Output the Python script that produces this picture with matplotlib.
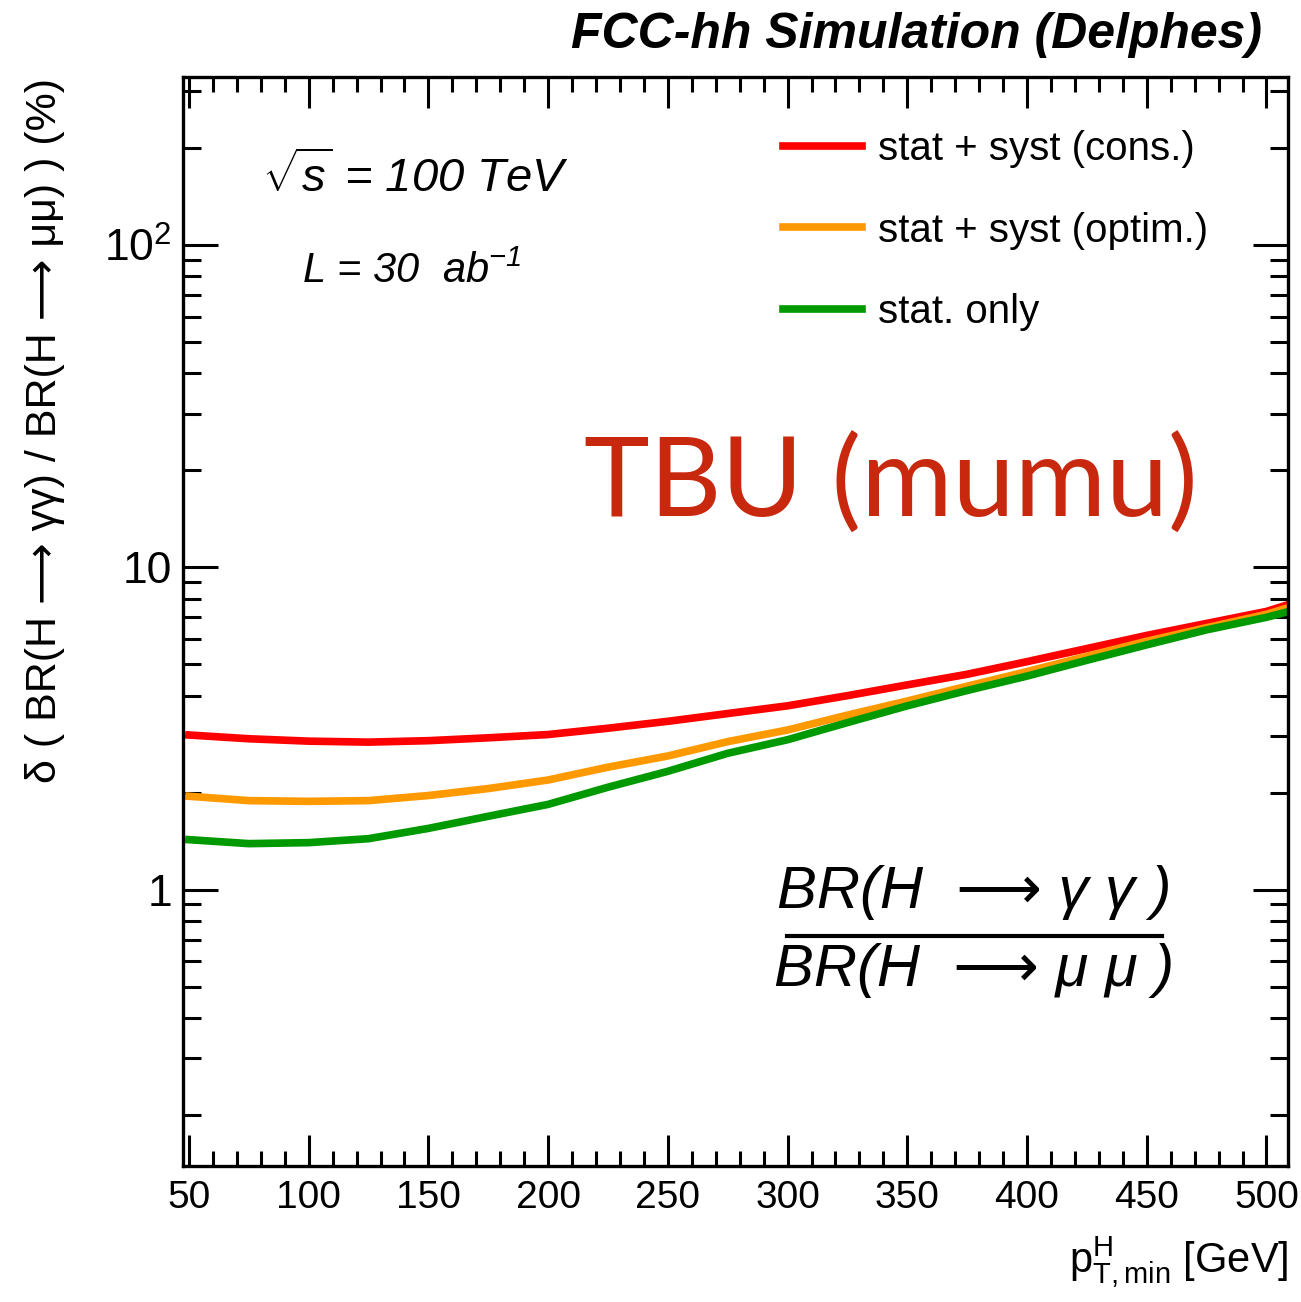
import matplotlib
matplotlib.use("Agg")
import matplotlib.pyplot as plt
from matplotlib.ticker import FixedLocator, FixedFormatter, MultipleLocator, NullFormatter

plt.rcParams['font.family'] = ['Liberation Sans', 'DejaVu Sans']
plt.rcParams['mathtext.fontset'] = 'custom'
plt.rcParams['mathtext.rm'] = 'Liberation Sans'
plt.rcParams['mathtext.it'] = 'Liberation Sans:italic'

# Data
pt_min = [50, 75, 100, 125, 150, 175, 200, 225, 250, 275, 300, 325, 350, 375, 400, 425, 450, 475, 500, 510]
cons = [3.02, 2.94, 2.89, 2.87, 2.90, 2.96, 3.03, 3.17, 3.33, 3.52, 3.72, 4.00, 4.32, 4.66, 5.10, 5.60, 6.15, 6.70, 7.30, 7.70]
optim = [1.95, 1.89, 1.88, 1.89, 1.96, 2.06, 2.19, 2.40, 2.60, 2.88, 3.13, 3.48, 3.85, 4.28, 4.75, 5.30, 5.90, 6.50, 7.15, 7.53]
stat = [1.43, 1.39, 1.40, 1.44, 1.55, 1.69, 1.84, 2.08, 2.33, 2.65, 2.92, 3.30, 3.72, 4.15, 4.60, 5.15, 5.75, 6.40, 7.00, 7.32]

labels = ["stat + syst (cons.)", "stat + syst (optim.)", "stat. only"]
colors = ["#ff0000", "#ff9900", "#009900"]

ytick_vals = [1, 10, 100]
ytick_text = ["1", "10", r"$\mathregular{10^{2}}$"]

W, H = 1301, 1302
fig = plt.figure(figsize=(W / 100, H / 100), dpi=100)
ax = fig.add_axes([183 / W, 1 - 1166 / H, (1288 - 183) / W, (1166 - 77) / H])

for y, lab, c in zip([cons, optim, stat], labels, colors):
    ax.plot(pt_min, y, color=c, lw=5.5, label=lab, solid_joinstyle='round')

ax.set_yscale('log')
ax.set_xlim(47.5, 509)
ax.set_ylim(0.139, 332)

ax.xaxis.set_major_locator(MultipleLocator(50))
ax.xaxis.set_minor_locator(MultipleLocator(10))
ax.yaxis.set_major_locator(FixedLocator(ytick_vals))
ax.yaxis.set_major_formatter(FixedFormatter(ytick_text))
ax.yaxis.set_minor_formatter(NullFormatter())

ax.tick_params(axis='both', which='both', direction='in', top=True, right=True, width=2.2, labelsize=28)
ax.tick_params(axis='x', which='major', length=22, pad=10)
ax.tick_params(axis='x', which='minor', length=11)
ax.tick_params(axis='y', which='major', length=25, pad=8, labelsize=32)
ax.tick_params(axis='y', which='minor', length=13)
for s in ax.spines.values():
    s.set_linewidth(2.4)

leg = ax.legend(loc='upper left', bbox_to_anchor=((783 - 183) / 1105, (1166 - 130) / 1089),
                frameon=False, fontsize=29, handlelength=1.95, handletextpad=0.42,
                labelspacing=1.08, borderpad=0, borderaxespad=0)

fig.text(1262 / W, 1 - 35 / H, "FCC-hh Simulation (Delphes)", ha='right', va='center',
         fontsize=36, fontweight='bold', fontstyle='italic')

fig.text(45 / W, 1 - 78 / H, "δ ( BR(H ⟶ γγ) / BR(H ⟶ μμ) ) (%)", rotation=90,
         ha='center', va='top', fontsize=31)

fig.text(1288 / W, 1 - 1262 / H, r"$\mathregular{p^{H}_{T,min}}$ [GeV]", ha='right', va='center',
         fontsize=30)

ax.text((262 - 183) / 1105, (1166 - 178) / 1089, r"$\sqrt{s}$ = 100 TeV", transform=ax.transAxes,
        ha='left', va='center', fontsize=34, fontstyle='italic')
ax.text((302 - 183) / 1105, (1166 - 272) / 1089, r"L = 30  ab$^{\mathregular{-1}}$", transform=ax.transAxes,
        ha='left', va='center', fontsize=30, fontstyle='italic')

ax.text((1198 - 183) / 1105, (1166 - 485) / 1089, "TBU (mumu)", transform=ax.transAxes,
        ha='right', va='center', fontsize=80, color='#c8290e', family=['Lato', 'DejaVu Sans'])

# ratio label
ax.text((974 - 183) / 1105, (1166 - 893) / 1089, "BR(H  ⟶ γ γ )", transform=ax.transAxes,
        ha='center', va='center', fontsize=43, fontstyle='italic')
ax.text((974 - 183) / 1105, (1166 - 970) / 1089, "BR(H  ⟶ μ μ )", transform=ax.transAxes,
        ha='center', va='center', fontsize=43, fontstyle='italic')
ax.plot([(787 - 183) / 1105, (1162 - 183) / 1105], [(1166 - 936) / 1089] * 2,
        transform=ax.transAxes, color='black', lw=3)

fig.savefig("out.png", dpi=100)
